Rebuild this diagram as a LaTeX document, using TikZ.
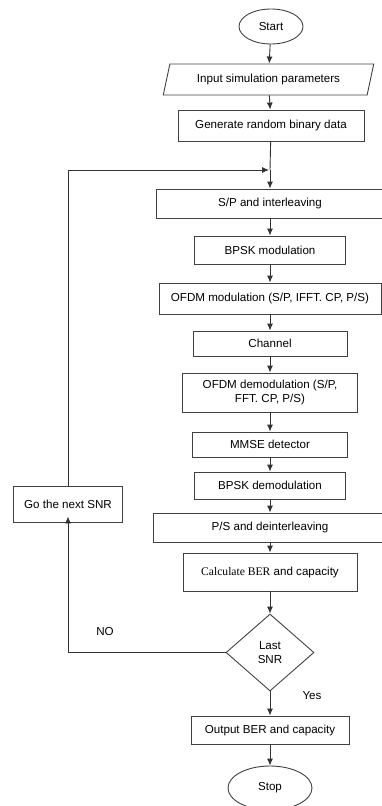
\documentclass[tikz,border=0pt]{standalone}
\usepackage{fontspec}
\setmainfont{Liberation Sans}
\newfontfamily\timesfont{Liberation Serif}
\usetikzlibrary{shapes.geometric,arrows.meta}

\begin{document}
\begin{tikzpicture}[x=1pt, y=-1pt,
	font=\fontsize{11.6}{13.5}\selectfont,
	box/.style={draw=black!75, line width=0.9pt, rectangle, inner sep=2pt, align=center},
	term/.style={draw=black!75, line width=0.9pt, ellipse, inner sep=0pt},
	line/.style={draw=black!80, line width=0.9pt},
	arr/.style={line, -{Latex[length=7pt, width=6pt]}}]
	\clip (0,0) rectangle (382,806);

	\node[term, minimum width=64pt, minimum height=35pt] (start) at (271, 26.5) {Start};
	\node[draw=black!75, line width=0.9pt, trapezium, trapezium left angle=74, trapezium right angle=106,
		trapezium stretches=true, minimum width=211pt, minimum height=31pt] (input) at (268.5, 79.5) {Input simulation parameters};
	\node[box, minimum width=186pt, minimum height=31pt] (gen) at (271, 125.5) {Generate random binary data};
	\coordinate (join) at (270, 170);
	\node[box, minimum width=228pt, minimum height=29pt] (sp) at (270, 203.5) {S/P and interleaving};
	\node[box, minimum width=151pt, minimum height=28pt] (bpskm) at (270, 250) {BPSK modulation};
	\node[box, minimum width=222pt, minimum height=31pt] (ofdmm) at (270, 298.5) {OFDM modulation (S/P, IFFT. CP, P/S)};
	\node[box, minimum width=154pt, minimum height=25pt] (chan) at (270, 343.5) {Channel};
	\node[box, minimum width=175pt, minimum height=39pt] (ofdmd) at (270, 392.5) {OFDM demodulation (S/P,\\FFT. CP, P/S)};
	\node[box, minimum width=155pt, minimum height=25pt] (mmse) at (270, 444.5) {MMSE detector};
	\node[box, minimum width=151pt, minimum height=27pt] (bpskd) at (270, 485.5) {BPSK demodulation};
	\node[box, minimum width=234pt, minimum height=29pt] (ps) at (270, 527.5) {P/S and deinterleaving};
	\node[box, minimum width=174pt, minimum height=38pt] (calc) at (270, 572) {{\timesfont Calculate BER} and capacity};
	\node[draw=black!75, line width=0.9pt, diamond, aspect=1.14, minimum width=88pt, minimum height=77pt,
		inner sep=0pt, align=center] (last) at (270, 652.5) {Last\\SNR};
	\node[box, minimum width=158pt, minimum height=28pt] (out) at (270, 730) {Output BER and capacity};
	\node[term, minimum width=84pt, minimum height=44pt] (stop) at (270, 788) {Stop};
	\node[box, minimum width=109pt, minimum height=36pt] (next) at (68, 504) {Go the next SNR};

	\draw[arr] (start) -- (input);
	\draw[arr] (input) -- (gen);
	\draw[line] (gen) -- (join);
	\draw[arr] (join) -- (sp);
	\draw[arr] (sp) -- (bpskm);
	\draw[arr] (bpskm) -- (ofdmm);
	\draw[arr] (ofdmm) -- (chan);
	\draw[arr] (chan) -- (ofdmd);
	\draw[arr] (ofdmd) -- (mmse);
	\draw[arr] (mmse) -- (bpskd);
	\draw[arr] (bpskd) -- (ps);
	\draw[arr] (ps) -- (calc);
	\draw[arr] (calc) -- (last);
	\draw[arr] (last) -- (out);
	\draw[arr] (out) -- (stop);
	\draw[arr] (next.north) |- ([xshift=-1pt]join);
	\draw[arr] (last.west) -| ([yshift=6pt]next.south);

	\node (no) at (105, 631) {NO};
	\node (yes) at (312, 696) {Yes};
\end{tikzpicture}
\end{document}
